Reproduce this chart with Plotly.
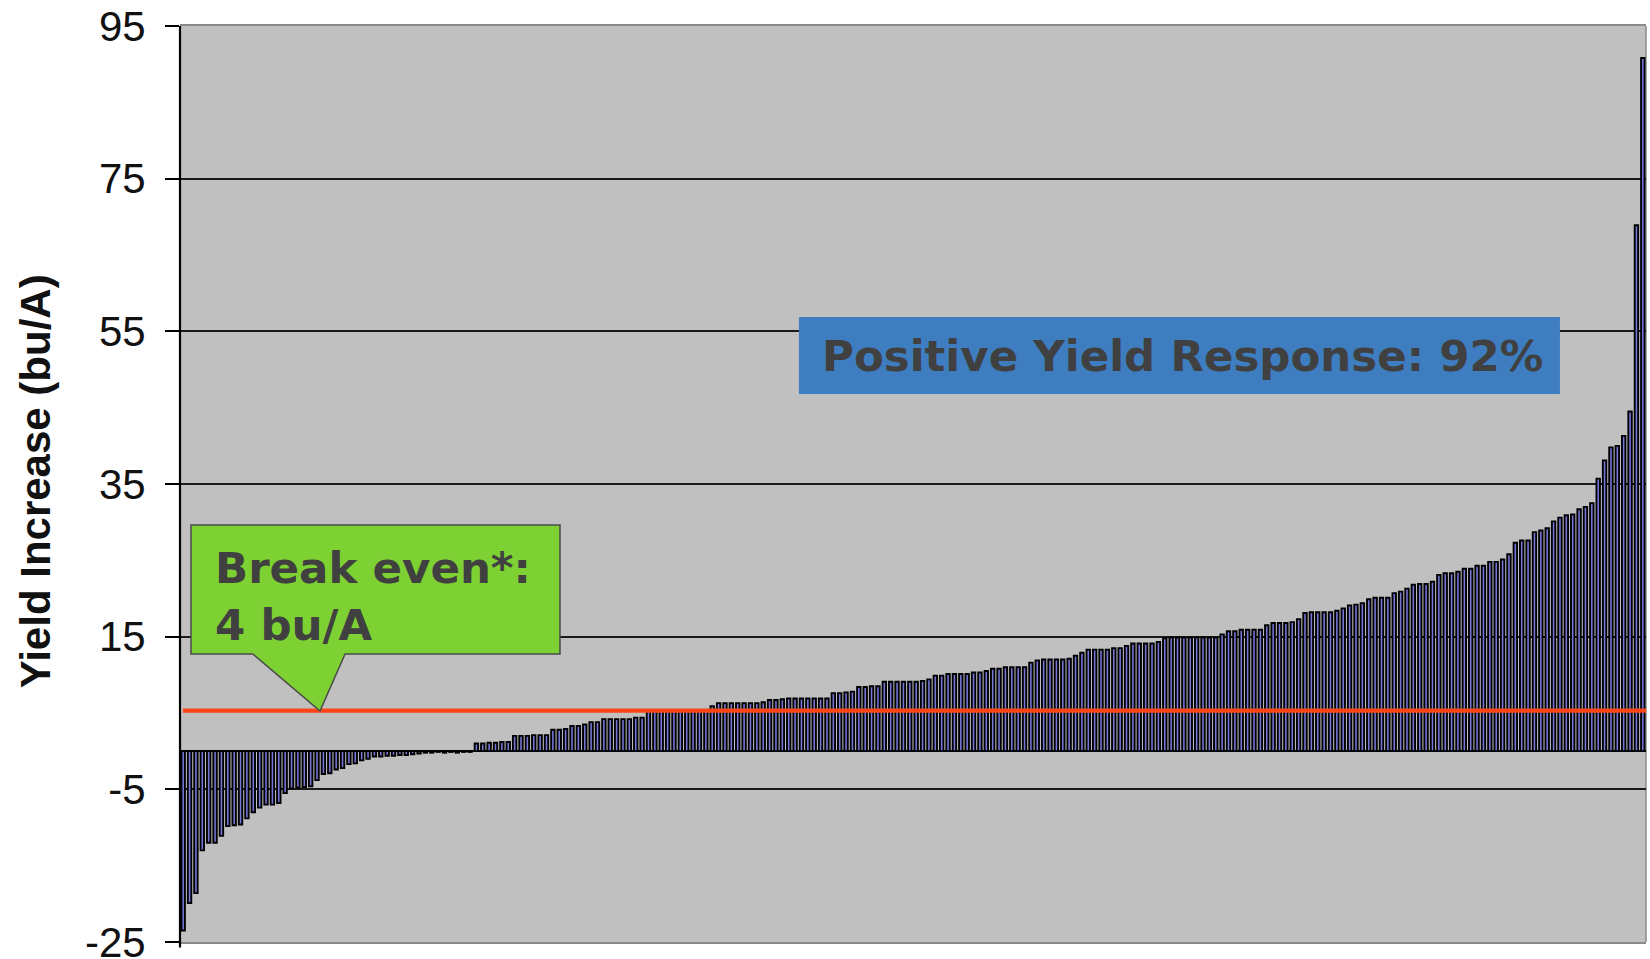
import plotly.graph_objects as go

# ---- data (sorted yield increases, bu/A) ----
yield_increase = [
    -23.5, -19.9, -18.6, -13.0, -12.0, -12.0, -11.1, -9.8, -9.7, -9.6,
    -8.8, -8.0, -7.4, -7.0, -7.0, -6.8, -5.5, -4.9, -4.8, -4.7,
    -4.6, -3.8, -3.0, -2.9, -2.4, -2.2, -1.7, -1.6, -1.2, -1.0,
    -0.7, -0.7, -0.6, -0.6, -0.5, -0.5, -0.4, -0.3, -0.2, -0.2,
    -0.1, -0.2, -0.1, -0.2, -0.1, -0.1, 1.0, 1.0, 1.1, 1.1,
    1.2, 1.2, 2.0, 2.0, 2.0, 2.1, 2.1, 2.1, 2.8, 2.8,
    2.9, 3.3, 3.3, 3.5, 3.8, 3.8, 4.2, 4.2, 4.2, 4.2,
    4.2, 4.4, 4.4, 5.4, 5.4, 5.4, 5.4, 5.4, 5.4, 5.4,
    5.4, 5.4, 5.4, 5.9, 6.3, 6.3, 6.3, 6.3, 6.3, 6.3,
    6.3, 6.4, 6.7, 6.7, 6.8, 6.9, 6.9, 6.9, 6.9, 6.9,
    6.9, 6.9, 7.6, 7.6, 7.7, 7.8, 8.4, 8.4, 8.5, 8.5,
    9.1, 9.1, 9.1, 9.1, 9.1, 9.1, 9.2, 9.4, 9.9, 9.9,
    10.1, 10.1, 10.1, 10.1, 10.3, 10.3, 10.5, 10.8, 10.8, 11.0,
    11.0, 11.0, 11.0, 11.6, 11.9, 12.0, 12.0, 12.0, 12.0, 12.1,
    12.5, 12.9, 13.3, 13.3, 13.3, 13.3, 13.5, 13.5, 13.8, 14.1,
    14.1, 14.1, 14.1, 14.3, 14.8, 14.9, 14.9, 14.9, 14.9, 14.9,
    14.9, 14.9, 14.9, 15.3, 15.7, 15.7, 15.9, 15.9, 15.9, 15.9,
    16.5, 16.8, 16.8, 16.8, 16.9, 17.3, 18.1, 18.2, 18.2, 18.2,
    18.2, 18.4, 18.7, 19.1, 19.2, 19.4, 19.9, 20.1, 20.1, 20.1,
    20.7, 20.9, 21.3, 21.8, 21.9, 21.9, 22.2, 23.1, 23.3, 23.3,
    23.5, 23.9, 23.9, 24.3, 24.3, 24.8, 24.8, 25.1, 25.8, 27.3,
    27.6, 27.6, 28.7, 28.9, 29.2, 30.1, 30.6, 30.9, 31.0, 31.7,
    32.0, 32.5, 35.7, 38.1, 39.8, 40.0, 41.3, 44.5, 68.9, 90.8,
]
site_index = list(range(1, len(yield_increase) + 1))
y_ticks = [-25, -5, 15, 35, 55, 75, 95]
y_range = [-25, 95]
break_even_line = 5.3
y_title = "Yield Increase (bu/A)"
break_even_lines = ["Break even*:", "4 bu/A"]
positive_text = "Positive Yield Response: 92%"

fig = go.Figure()
fig.add_trace(go.Bar(
    x=site_index, y=yield_increase,
    marker=dict(color="#7878DC", line=dict(color="black", width=1.9)),
    hoverinfo="y",
))

box_font = dict(family="DejaVu Sans", size=43.5, color="#404040")

fig.update_layout(
    width=1650, height=959,
    margin=dict(l=180, r=4, t=26, b=17),
    paper_bgcolor="white",
    plot_bgcolor="#C0C0C0",
    bargap=0.46,
    showlegend=False,
    xaxis=dict(
        range=[0.5, len(yield_increase) + 0.5],
        showticklabels=False, ticks="", showgrid=False, zeroline=False,
        showline=True, linecolor="#8a8a8a", linewidth=1.5, mirror=True,
    ),
    yaxis=dict(
        range=y_range, tickvals=y_ticks, ticktext=[str(t) for t in y_ticks],
        ticks="outside", ticklen=14, tickwidth=1.5, tickcolor="black",
        ticklabelstandoff=11, ticklabeloverflow="allow",
        tickfont=dict(family="Liberation Sans, Arial", size=42, color="#111111"),
        showgrid=True, gridcolor="#1a1a1a", gridwidth=1.5,
        zeroline=True, zerolinecolor="black", zerolinewidth=2,
        showline=False, automargin=False,
    ),
    shapes=[
        # left spine
        dict(type="line", xref="paper", yref="paper", x0=0, x1=0, y0=-0.006, y1=1,
             line=dict(color="black", width=2.2), layer="above"),
        # right border
        dict(type="line", xref="paper", yref="paper", x0=1, x1=1, y0=0, y1=1,
             line=dict(color="#8a8a8a", width=1.5), layer="below"),
        # break-even line
        dict(type="line", xref="paper", yref="y", x0=0.002, x1=1,
             y0=break_even_line, y1=break_even_line,
             line=dict(color="#FF4614", width=4.2), layer="above"),
        # green callout
        dict(type="path", xref="paper", yref="paper",
             path="M 0.0075 0.4552 L 0.2592 0.4552 L 0.2592 0.3144 L 0.1126 0.3144 "
                  "L 0.0955 0.2522 L 0.0496 0.3144 L 0.0075 0.3144 Z",
             fillcolor="#7ED132", line=dict(color="#4a4a4a", width=1.5), layer="above"),
        # blue box
        dict(type="rect", xref="paper", yref="paper",
             x0=0.4222, x1=0.9413, y0=0.5983, y1=0.6823,
             fillcolor="#3E7DC0", line=dict(width=0), layer="above"),
    ],
    annotations=[
        dict(text="<b>" + y_title + "</b>", xref="paper", yref="paper", x=-0.0989, y=0.503,
             xanchor="center", yanchor="middle", textangle=-90, showarrow=False,
             font=dict(family="Liberation Sans, Arial", size=42, color="#111111")),
        dict(text="<br>".join("<b>" + s + "</b>" for s in break_even_lines),
             xref="paper", yref="paper", x=0.0225, y=0.3777,
             xanchor="left", yanchor="middle", align="left", showarrow=False,
             font=box_font),
        dict(text="<b>" + positive_text + "</b>", xref="paper", yref="paper",
             x=0.4366, y=0.6395, xanchor="left", yanchor="middle", showarrow=False,
             font=box_font),
    ],
)

fig.write_html("out.html", config={"displayModeBar": False},
               post_script="document.body.style.margin='0';document.body.style.padding='0';")
